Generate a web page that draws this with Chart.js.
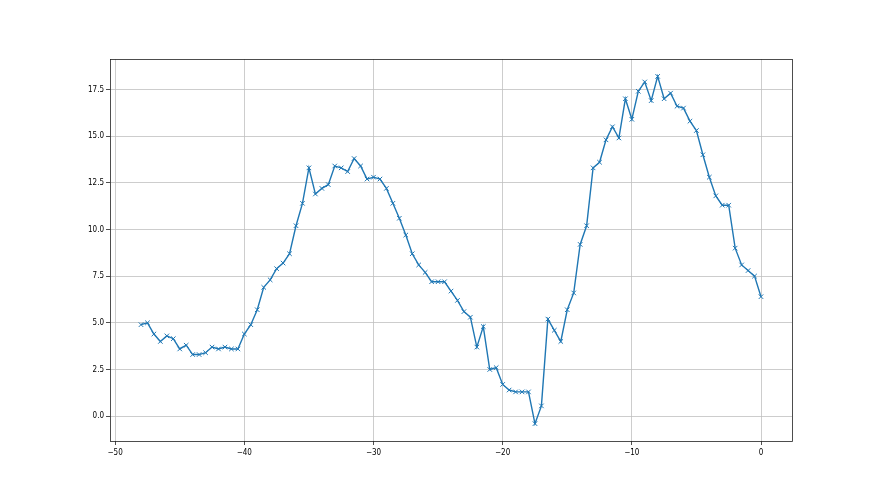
<!DOCTYPE html>
<html>
<head>
<meta charset="utf-8">
<script src="https://cdn.jsdelivr.net/npm/chart.js@4/dist/chart.umd.min.js"></script>
<style>
html,body{margin:0;padding:0;background:#fff;}
#c{display:block;}
</style>
</head>
<body>
<canvas id="c" width="880" height="495"></canvas>
<script>
const xValues = [-48,-47.5,-47,-46.5,-46,-45.5,-45,-44.5,-44,-43.5,-43,-42.5,-42,-41.5,-41,-40.5,-40,-39.5,-39,-38.5,-38,-37.5,-37,-36.5,-36,-35.5,-35,-34.5,-34,-33.5,-33,-32.5,-32,-31.5,-31,-30.5,-30,-29.5,-29,-28.5,-28,-27.5,-27,-26.5,-26,-25.5,-25,-24.5,-24,-23.5,-23,-22.5,-22,-21.5,-21,-20.5,-20,-19.5,-19,-18.5,-18,-17.5,-17,-16.5,-16,-15.5,-15,-14.5,-14,-13.5,-13,-12.5,-12,-11.5,-11,-10.5,-10,-9.5,-9,-8.5,-8,-7.5,-7,-6.5,-6,-5.5,-5,-4.5,-4,-3.5,-3,-2.5,-2,-1.5,-1,-0.5,0];
const yValues = [4.9,5.0,4.4,4.0,4.3,4.15,3.6,3.8,3.3,3.3,3.4,3.7,3.6,3.7,3.6,3.6,4.4,4.9,5.7,6.9,7.3,7.9,8.2,8.7,10.2,11.4,13.3,11.9,12.2,12.4,13.4,13.3,13.1,13.8,13.4,12.7,12.8,12.7,12.2,11.4,10.6,9.7,8.7,8.1,7.7,7.2,7.2,7.2,6.7,6.2,5.6,5.3,3.7,4.8,2.5,2.6,1.7,1.4,1.3,1.3,1.3,-0.4,0.55,5.2,4.6,4.0,5.7,6.6,9.2,10.2,13.3,13.6,14.8,15.5,14.9,17.0,15.9,17.4,17.9,16.9,18.2,17.0,17.3,16.6,16.5,15.8,15.3,14.0,12.8,11.8,11.3,11.3,9.0,8.1,7.8,7.5,6.4];
const xTicks = [-50,-40,-30,-20,-10,0];
const yTicks = [0,2.5,5,7.5,10,12.5,15,17.5];

const points = xValues.map((x,i)=>({x:x,y:yValues[i]}));
const minus = s => String(s).replace('-', '\u2212');
const tickFont = {family:"'DejaVu Sans Condensed', 'DejaVu Sans'", size:8};

const frame = {
  id:'frame',
  afterDraw(chart){
    const a = chart.chartArea, ctx = chart.ctx;
    ctx.save();
    ctx.strokeStyle = '#222';
    ctx.lineWidth = 0.8;
    ctx.strokeRect(Math.round(a.left)+0.5, Math.round(a.top)+0.5, Math.round(a.right-a.left), Math.round(a.bottom-a.top));
    ctx.restore();
  }
};

new Chart(document.getElementById('c'), {
  type:'scatter',
  data:{datasets:[{
    data:points,
    showLine:true,
    borderColor:'#1f77b4',
    backgroundColor:'#1f77b4',
    borderWidth:1.4,
    pointStyle:'crossRot',
    pointRadius:3.2,
    pointBorderWidth:1,
    pointHoverRadius:3.2,
    tension:0
  }]},
  options:{
    responsive:false,
    devicePixelRatio:1,
    animation:false,
    events:[],
    layout:{padding:{left:0,right:88,top:59,bottom:0}},
    plugins:{legend:{display:false},tooltip:{enabled:false}},
    scales:{
      x:{
        type:'linear', min:-50.4, max:2.4,
        afterBuildTicks(s){ s.ticks = xTicks.map(v=>({value:v})); },
        afterFit(s){ s.height = 54; },
        grid:{color:'#c0c0c0', lineWidth:0.8, tickColor:'#222', tickLength:4, drawTicks:true},
        border:{display:false},
        ticks:{color:'#000', font:tickFont, padding:3, maxRotation:0,
          callback:v=>minus(v)}
      },
      y:{
        type:'linear', min:-1.33, max:19.13,
        afterBuildTicks(s){ s.ticks = yTicks.map(v=>({value:v})); },
        afterFit(s){ s.width = 110; },
        grid:{color:'#c0c0c0', lineWidth:0.8, tickColor:'#222', tickLength:4, drawTicks:true},
        border:{display:false},
        ticks:{color:'#000', font:tickFont, padding:2,
          callback:v=>minus(Number(v).toFixed(1))}
      }
    }
  },
  plugins:[frame]
});
</script>
</body>
</html>
